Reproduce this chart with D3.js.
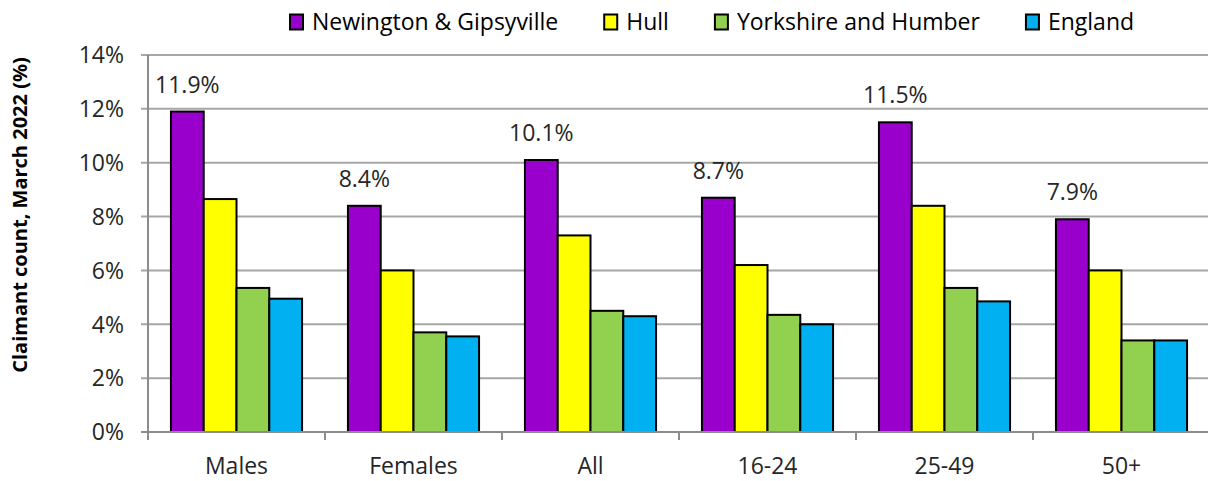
<!DOCTYPE html>
<html>
<head>
<meta charset="utf-8">
<script src="https://cdn.jsdelivr.net/npm/d3@7"></script>
<style>
  body { margin: 0; background: #fff; }
  svg { display: block; font-family: "Open Sans", Lato, sans-serif; }
</style>
</head>
<body>
<svg id="chart" width="1208" height="481"></svg>
<script>
// Chart data
const categories = ['Males', 'Females', 'All', '16-24', '25-49', '50+'];
const seriesNames = ['Newington & Gipsyville', 'Hull', 'Yorkshire and Humber', 'England'];
const newington = [11.9, 8.4, 10.1, 8.7, 11.5, 7.9];
const hull = [8.65, 6.0, 7.3, 6.2, 8.4, 6.0];
const yorkshire = [5.35, 3.7, 4.5, 4.35, 5.35, 3.4];
const england = [4.95, 3.55, 4.3, 4.0, 4.85, 3.4];
const yTicks = [0, 2, 4, 6, 8, 10, 12, 14];
const colors = ['#9900cc', '#ffff00', '#92d050', '#00b0f0'];

const seriesValues = [newington, hull, yorkshire, england];

const FONT = '23px';

const svg = d3.select('#chart');
const margin = { top: 55, right: -2, bottom: 49, left: 148 };
const width = 1208 - margin.left - margin.right;
const height = 481 - margin.top - margin.bottom;

const g = svg.append('g')
    .attr('transform', `translate(${margin.left},${margin.top})`);

const x0 = d3.scaleBand()
    .domain(categories)
    .range([0, width])
    .paddingInner(0)
    .paddingOuter(0);

const x1 = d3.scaleBand()
    .domain(seriesNames)
    .range([0, x0.bandwidth()])
    .paddingOuter(0.7);

const y = d3.scaleLinear()
    .domain([0, 14])
    .range([height, 0]);

// Gridlines
g.append('g')
    .selectAll('line')
    .data(yTicks.filter(t => t > 0))
    .join('line')
    .attr('x1', -7)
    .attr('x2', width)
    .attr('y1', d => y(d))
    .attr('y2', d => y(d))
    .attr('stroke', '#a6a6a6')
    .attr('stroke-width', 2);

// Y axis labels
g.append('g')
    .selectAll('text')
    .data(yTicks)
    .join('text')
    .attr('x', -24)
    .attr('y', d => y(d))
    .attr('dy', '0.36em')
    .attr('text-anchor', 'end')
    .attr('font-size', FONT)
    .attr('fill', '#262626')
    .text(d => d + '%');

// Bars
const rows = categories.map((c, i) => ({
    category: c,
    values: seriesNames.map((s, j) => ({ series: s, index: j, value: seriesValues[j][i] }))
}));

const groups = g.append('g')
    .selectAll('g')
    .data(rows)
    .join('g')
    .attr('transform', d => `translate(${x0(d.category)},0)`);

groups.selectAll('rect')
    .data(d => d.values)
    .join('rect')
    .attr('x', d => x1(d.series))
    .attr('y', d => y(d.value))
    .attr('width', x1.bandwidth())
    .attr('height', d => y(0) - y(d.value))
    .attr('fill', d => colors[d.index])
    .attr('stroke', '#000')
    .attr('stroke-width', 2);

// Data labels for first series only
groups.append('text')
    .attr('x', x1(seriesNames[0]) + x1.bandwidth() / 2)
    .attr('y', d => y(d.values[0].value) - 19)
    .attr('text-anchor', 'middle')
    .attr('font-size', FONT)
    .attr('fill', '#262626')
    .text(d => d.values[0].value.toFixed(1) + '%');

// Axes lines
g.append('line')
    .attr('x1', 0).attr('x2', 0)
    .attr('y1', 0).attr('y2', height)
    .attr('stroke', '#8c8c8c')
    .attr('stroke-width', 2);

g.append('line')
    .attr('x1', -7).attr('x2', width)
    .attr('y1', height).attr('y2', height)
    .attr('stroke', '#8c8c8c')
    .attr('stroke-width', 2);

// X ticks at category boundaries
const boundaries = categories.map(c => x0(c)).concat([width]);
g.append('g')
    .selectAll('line')
    .data(boundaries)
    .join('line')
    .attr('x1', d => d).attr('x2', d => d)
    .attr('y1', height).attr('y2', height + 8)
    .attr('stroke', '#8c8c8c')
    .attr('stroke-width', 2);

// X labels
g.append('g')
    .selectAll('text')
    .data(categories)
    .join('text')
    .attr('x', d => x0(d) + x0.bandwidth() / 2)
    .attr('y', height + 42)
    .attr('text-anchor', 'middle')
    .attr('font-size', FONT)
    .attr('fill', '#262626')
    .text(d => d);

// Y axis title
svg.append('text')
    .attr('transform', 'translate(27,215) rotate(-90)')
    .attr('text-anchor', 'middle')
    .attr('font-size', '20px')
    .attr('font-weight', 'bold')
    .attr('fill', '#000')
    .text('Claimant count, March 2022 (%)');

// Legend
const legend = svg.append('g').attr('transform', 'translate(290,22)');
let lx = 0;
seriesNames.forEach((name, i) => {
    const item = legend.append('g').attr('transform', `translate(${lx},0)`);
    item.append('rect')
        .attr('x', 0).attr('y', -7.5)
        .attr('width', 13).attr('height', 15)
        .attr('fill', colors[i])
        .attr('stroke', '#000')
        .attr('stroke-width', 2);
    const t = item.append('text')
        .attr('x', 22)
        .attr('y', 0)
        .attr('dy', '0.36em')
        .attr('font-size', FONT)
        .attr('fill', '#000')
        .text(name);
    lx += 22 + t.node().getComputedTextLength() + 46;
});
</script>
</body>
</html>
